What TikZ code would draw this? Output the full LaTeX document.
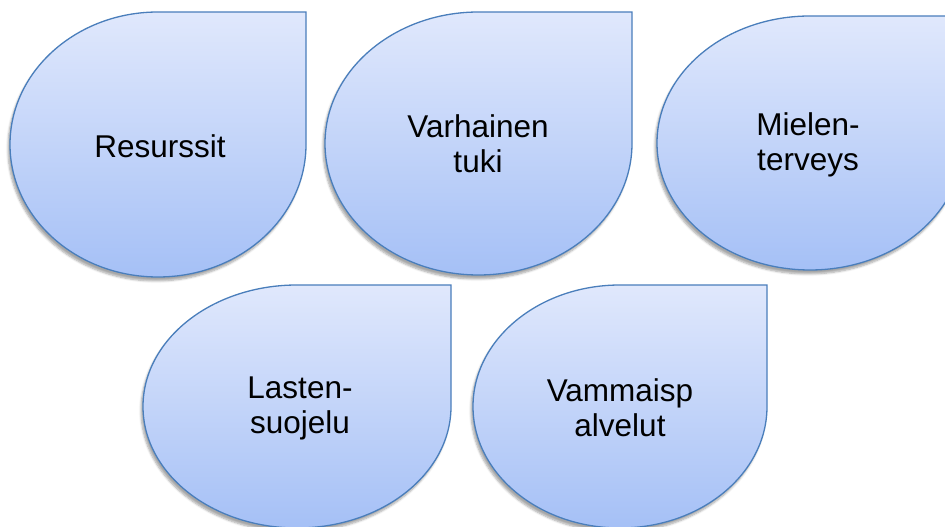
\documentclass[tikz,border=0pt]{standalone}
\usepackage{fontspec}
\setmainfont{Liberation Sans}
\usetikzlibrary{shadows.blur}
\definecolor{edgeblue}{HTML}{4A7EBB}
\definecolor{topblue}{HTML}{E0E8FC}
\definecolor{botblue}{HTML}{A5C0F6}
\tikzset{
  tearshape/.style={draw=edgeblue, line width=1.3pt, top color=topblue, bottom color=botblue,
    blur shadow={shadow xshift=-2pt, shadow yshift=-4pt, shadow blur steps=6, shadow opacity=35}},
  label/.style={align=center, font=\fontsize{31.5}{35}\selectfont, text=black, inner sep=0pt}
}
% #1 cx, #2 cy (y up), #3 rx, #4 ry
\newcommand\tdrop[4]{%
  \path[tearshape] ({#1-#3},#2) arc[start angle=180,end angle=90,x radius=#3,y radius=#4]
    -- ({#1+#3},{#2+#4}) -- ({#1+#3},#2)
    arc[start angle=0,end angle=-180,x radius=#3,y radius=#4] -- cycle;}
\begin{document}
\begin{tikzpicture}[x=1pt,y=1pt]
\useasboundingbox (0,0) rectangle (945,527);
\tdrop{158}{382.5}{148}{132.5}
\tdrop{478.5}{383.5}{153.5}{131.5}
\tdrop{810}{384}{153}{127}
\tdrop{297}{120.5}{154}{121.5}
\tdrop{620}{120.5}{147}{121.5}
\node[label] (resurssit) at (160,381) {Resurssit};
\node[label] (varhainen) at (478,383) {Varhainen\\tuki};
\node[label] (mielen) at (808,382) {Mielen-\\terveys};
\node[label] (lasten) at (300,119) {Lasten-\\suojelu};
\node[label] (vammais) at (620,119) {Vammaisp\\alvelut};
\end{tikzpicture}
\end{document}
